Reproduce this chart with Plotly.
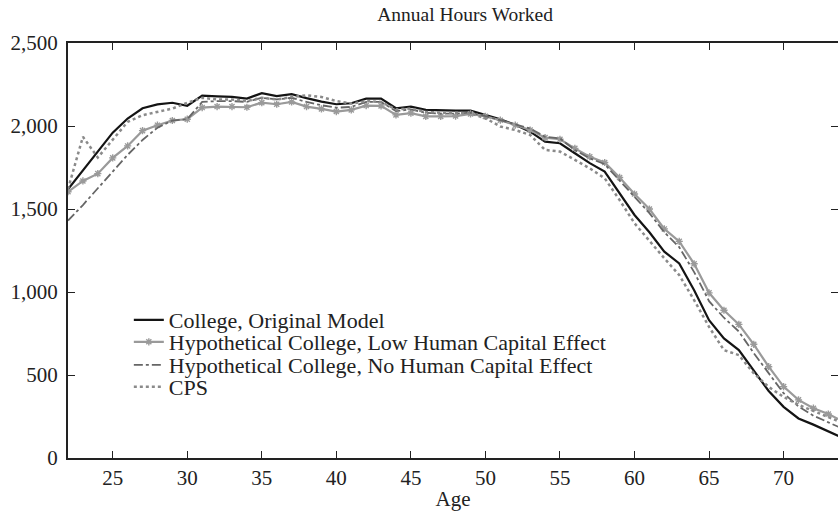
import plotly.graph_objects as go

ages = list(range(22, 75))

college_original = [1619, 1735, 1850, 1960, 2045, 2107, 2130, 2140, 2122, 2183,
                    2178, 2175, 2165, 2198, 2180, 2192, 2168, 2147, 2131, 2137,
                    2165, 2165, 2107, 2117, 2097, 2093, 2093, 2093, 2067, 2040,
                    2007, 1966, 1906, 1896, 1836, 1776, 1725, 1595, 1464, 1360,
                    1243, 1172, 1011, 830, 720, 650, 529, 404, 308, 238,
                    201, 161, 120]

low_hc = [1604, 1669, 1713, 1808, 1880, 1972, 2005, 2033, 2041, 2111,
          2117, 2117, 2113, 2141, 2131, 2145, 2117, 2103, 2087, 2097,
          2123, 2121, 2067, 2077, 2058, 2058, 2060, 2073, 2058, 2035,
          2005, 1976, 1930, 1920, 1865, 1815, 1780, 1690, 1590, 1500,
          1380, 1305, 1170, 995, 890, 805, 685, 550, 430, 350,
          300, 265, 220]

no_hc = [1430, 1524, 1625, 1725, 1826, 1916, 1990, 2033, 2041, 2145,
         2150, 2150, 2145, 2170, 2160, 2170, 2145, 2125, 2110, 2115,
         2145, 2145, 2090, 2100, 2080, 2075, 2075, 2080, 2060, 2035,
         2010, 1985, 1935, 1925, 1855, 1805, 1770, 1670, 1570, 1475,
         1360, 1270, 1120, 945, 845, 762, 632, 510, 390, 310,
         255, 215, 175]

cps = [1620, 1935, 1810, 1915, 2025, 2065, 2085, 2105, 2140, 2170,
       2160, 2160, 2150, 2170, 2160, 2175, 2185, 2175, 2150, 2135,
       2150, 2145, 2100, 2105, 2085, 2080, 2080, 2075, 2047, 1997,
       1976, 1946, 1856, 1846, 1796, 1745, 1685, 1554, 1414, 1305,
       1203, 1102, 951, 790, 650, 620, 510, 428, 368, 320,
       285, 250, 210]

x_ticks = [25, 30, 35, 40, 45, 50, 55, 60, 65, 70]
y_ticks = [0, 500, 1000, 1500, 2000, 2500]

names = ["College, Original Model",
         "Hypothetical College, Low Human Capital Effect",
         "Hypothetical College, No Human Capital Effect",
         "CPS"]

FONT = "Liberation Serif"

fig = go.Figure()
fig.add_trace(go.Scatter(x=ages, y=college_original, mode="lines", name=names[0],
                         line=dict(color="#141414", width=2.2), legend="legend"))
fig.add_trace(go.Scatter(x=ages, y=low_hc, mode="lines+markers", name=names[1],
                         line=dict(color="#9a9a9a", width=2.2),
                         marker=dict(symbol="asterisk-open", size=6, color="#9a9a9a",
                                     line=dict(color="#9a9a9a", width=1.4)),
                         legend="legend2"))
fig.add_trace(go.Scatter(x=ages, y=no_hc, mode="lines", name=names[2],
                         line=dict(color="#666666", width=1.8, dash="dashdot"),
                         legend="legend3"))
fig.add_trace(go.Scatter(x=ages, y=cps, mode="lines", name=names[3],
                         line=dict(color="#8a8a8a", width=2.5, dash="dot"),
                         legend="legend4"))

legend_rows = [0.3325, 0.2795, 0.224, 0.171]
leg_common = dict(x=0.079, xanchor="left", yanchor="middle",
                  bgcolor="rgba(0,0,0,0)", borderwidth=0,
                  font=dict(family=FONT, size=22, color="#222"))

fig.update_layout(
    template="none",
    width=838, height=514,
    margin=dict(l=68, r=0, t=43, b=56, autoexpand=False),
    paper_bgcolor="white", plot_bgcolor="white",
    font=dict(family=FONT, size=21, color="#222"),
    title=dict(text="Annual Hours Worked", x=0.555, xanchor="center",
               y=1 - 14 / 514, yanchor="middle", yref="container",
               font=dict(family=FONT, size=19.5, color="#222")),
    legend=dict(y=legend_rows[0], **leg_common),
    legend2=dict(y=legend_rows[1], **leg_common),
    legend3=dict(y=legend_rows[2], **leg_common),
    legend4=dict(y=legend_rows[3], **leg_common),
    showlegend=True,
)

fig.update_xaxes(range=[22, 73.65], tickvals=x_ticks, ticks="inside", ticklen=7,
                 tickwidth=1, tickcolor="#222", showline=True, linecolor="#222",
                 linewidth=2, mirror="ticks", showgrid=False, zeroline=False,
                 automargin=False,
                 tickfont=dict(family=FONT, size=21, color="#222"),
                 title=dict(text="Age", standoff=2,
                            font=dict(family=FONT, size=21, color="#222")))
fig.update_yaxes(range=[0, 2500], tickvals=y_ticks, tickformat=",d", ticks="inside",
                 ticklen=7, tickwidth=1, tickcolor="#222", showline=True,
                 linecolor="#222", linewidth=2, mirror="ticks", showgrid=False,
                 zeroline=False, ticklabelstandoff=4, automargin=False,
                 tickfont=dict(family=FONT, size=21, color="#222"))

fig.write_html("out.html", config={"displayModeBar": False},
               post_script="document.body.style.margin='0px';document.body.style.overflow='hidden';")
